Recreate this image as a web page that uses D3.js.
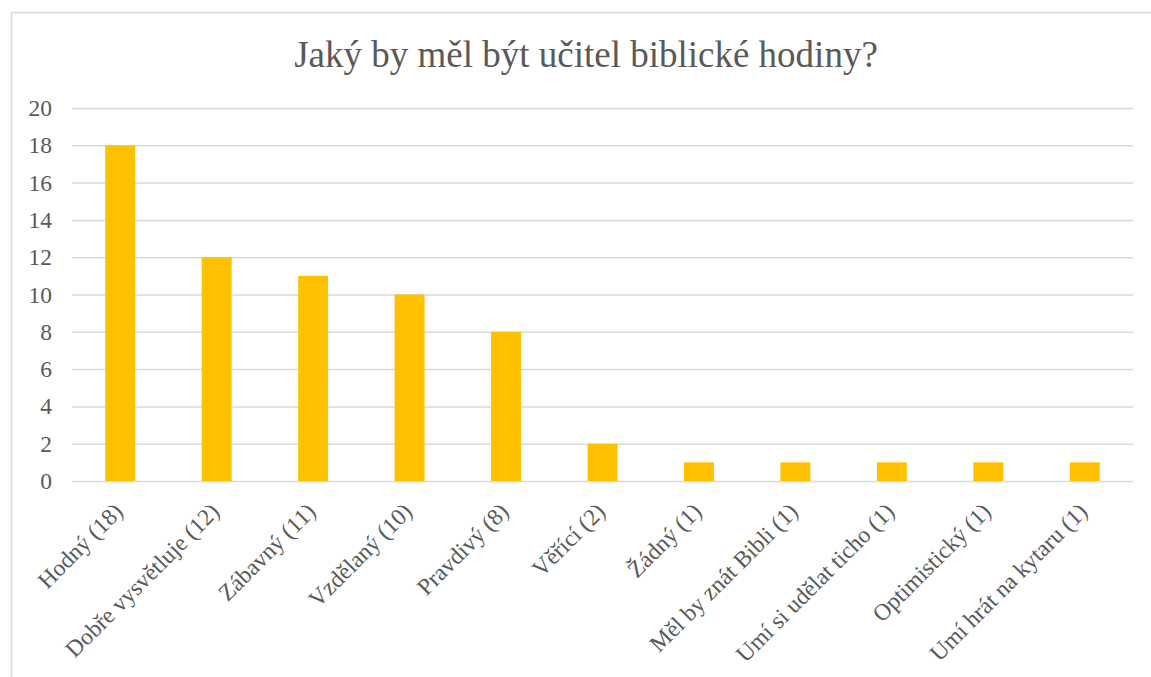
<!DOCTYPE html>
<html>
<head>
<meta charset="utf-8">
<script src="https://cdn.jsdelivr.net/npm/d3@7"></script>
<style>
  body { margin: 0; background: #fff; }
</style>
</head>
<body>
<div id="chart"></div>
<script>
// data
var categories = [
  "Hodný (18)", "Dobře vysvětluje (12)", "Zábavný (11)", "Vzdělaný (10)",
  "Pravdivý (8)", "Věřící (2)", "Žádný (1)", "Měl by znát Bibli (1)",
  "Umí si udělat ticho (1)", "Optimistický (1)", "Umí hrát na kytaru (1)"
];
var values = [18, 12, 11, 10, 8, 2, 1, 1, 1, 1, 1];
var yTicks = [0, 2, 4, 6, 8, 10, 12, 14, 16, 18, 20];
var title = "Jaký by měl být učitel biblické hodiny?";

var width = 1151, height = 677;
var plot = { left: 72, right: 1133, top: 108, bottom: 481 };
var textColor = "#595959";
var gridColor = "#d9d9d9";
var serif = "Liberation Serif";

var svg = d3.select("#chart").append("svg")
  .attr("width", width).attr("height", height)
  .attr("font-family", serif);

// chart area border (only top and left edges fall inside the picture)
svg.append("rect")
  .attr("x", 11.5).attr("y", 12.5)
  .attr("width", 1200).attr("height", 700)
  .attr("fill", "none")
  .attr("stroke", gridColor)
  .attr("stroke-width", 1.5);

var x = d3.scaleBand()
  .domain(categories)
  .range([plot.left, plot.right])
  .paddingInner(0.69)
  .paddingOuter(0.345);

var y = d3.scaleLinear()
  .domain([0, 20])
  .range([plot.bottom, plot.top]);

// gridlines + y labels
var yAxis = svg.append("g")
  .attr("transform", "translate(" + plot.left + ",0)")
  .call(d3.axisLeft(y).tickValues(yTicks).tickSize(-(plot.right - plot.left)).tickPadding(20));
yAxis.attr("font-family", serif).attr("font-size", 23.5);
yAxis.select(".domain").remove();
yAxis.selectAll(".tick line")
  .attr("stroke", gridColor)
  .attr("stroke-width", 1.5);
yAxis.selectAll(".tick text")
  .attr("fill", textColor);

// bars
svg.append("g")
  .selectAll("rect")
  .data(values)
  .enter()
  .append("rect")
  .attr("x", function (d, i) { return x(categories[i]); })
  .attr("y", function (d) { return y(d); })
  .attr("width", x.bandwidth())
  .attr("height", function (d) { return y(0) - y(d); })
  .attr("fill", "#ffc000");

// category labels, rotated
var xAxis = svg.append("g")
  .attr("transform", "translate(0," + plot.bottom + ")")
  .call(d3.axisBottom(x).tickSize(0).tickPadding(0));
xAxis.attr("font-family", serif).attr("font-size", 23.5);
xAxis.select(".domain").remove();
xAxis.selectAll(".tick text")
  .attr("fill", textColor)
  .attr("text-anchor", "end")
  .attr("dy", null)
  .attr("y", null)
  .attr("transform", "translate(4,32) rotate(-45)");

// title
svg.append("text")
  .attr("x", 586)
  .attr("y", 67)
  .attr("text-anchor", "middle")
  .attr("fill", textColor)
  .attr("font-size", 37)
  .text(title);
</script>
</body>
</html>
